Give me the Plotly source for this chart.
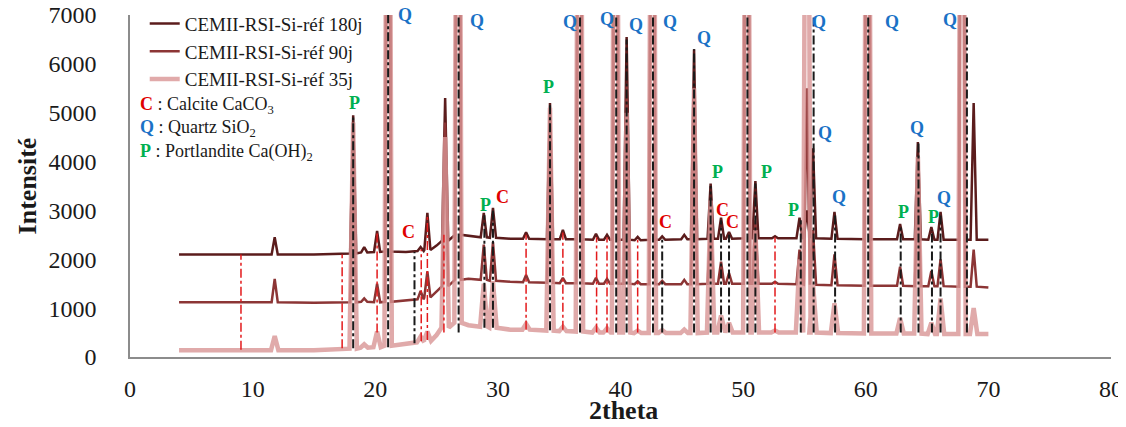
import plotly.graph_objects as go

# ---------------- data ----------------
# peak / anchor positions (2theta)
pos = [4.0, 9.0, 11.8, 15.0, 18.2, 19.1, 20.15, 21.05, 22.5, 23.7, 24.25, 25.0,
       25.7, 26.75, 27.6, 28.85, 29.6, 31.0, 32.3, 34.25, 35.3, 36.65, 38.0,
       38.9, 39.6, 40.5, 41.4, 42.6, 43.4, 45.2, 46.0, 47.35, 48.2, 48.85,
       50.3, 51.0, 52.6, 54.6, 55.2, 55.7, 57.45, 60.15, 62.8, 64.25, 65.35,
       66.1, 67.85, 68.8, 70.0]
# 1 = real peak, 0 = baseline anchor
is_peak = [0, 0, 1, 0, 1, 1, 1, 1, 0, 1, 1, 0,
           1, 1, 0, 1, 1, 0, 1, 1, 1, 1, 1,
           1, 1, 1, 1, 1, 1, 1, 1, 1, 1, 1,
           1, 1, 1, 1, 1, 1, 1, 1, 1, 1, 1,
           1, 1, 1, 0]

# (peaks that leave the chart are estimated well above the 7000 limit)
base_180 = [2100, 2090, 2100, 2100, 2120, 2140, 2150, 2160, 2150, 2170, 2190, 2280,
            2380, 2500, 2480, 2450, 2440, 2420, 2420, 2410, 2410, 2410, 2400,
            2400, 2400, 2400, 2390, 2400, 2400, 2410, 2410, 2420, 2420, 2420,
            2430, 2430, 2430, 2430, 2430, 2430, 2420, 2410, 2410, 2410, 2400,
            2400, 2400, 2400, 2400]
top_180 = [2100, 2090, 2450, 2100, 4950, 2250, 2580, 20000, 2150, 2250, 2950, 2280,
           5300, 20000, 2480, 2950, 3050, 2420, 2550, 5200, 2600, 20000, 2520,
           2500, 20000, 6550, 2460, 20000, 2470, 2500, 6300, 3550, 2850, 2560,
           20000, 3600, 2470, 2850, 3000, 4270, 2970, 20000, 2720, 4400, 2660,
           2970, 20000, 5200, 2400]

base_90 = [1120, 1110, 1120, 1110, 1120, 1130, 1120, 1130, 1150, 1180, 1220, 1350,
           1450, 1580, 1600, 1580, 1560, 1540, 1530, 1520, 1510, 1510, 1500,
           1500, 1500, 1500, 1490, 1490, 1490, 1490, 1490, 1500, 1500, 1500,
           1500, 1500, 1500, 1490, 1480, 1480, 1470, 1460, 1460, 1450, 1450,
           1450, 1440, 1440, 1420]
top_90 = [1120, 1110, 1600, 1110, 4000, 1200, 1500, 20000, 1150, 1350, 1750, 1350,
          4800, 20000, 1600, 2300, 2350, 1540, 1680, 4500, 1620, 20000, 1620,
          1600, 20000, 5600, 1550, 20000, 1560, 1580, 5300, 2800, 1950, 1720,
          20000, 2800, 1540, 2200, 5500, 2600, 2100, 20000, 1850, 3600, 1760,
          2000, 20000, 2200, 1420]

base_35 = [140, 130, 140, 140, 170, 190, 200, 230, 270, 300, 330, 450,
           600, 700, 650, 620, 600, 560, 560, 540, 530, 520, 500,
           500, 500, 500, 490, 490, 490, 490, 490, 500, 500, 500,
           500, 500, 500, 500, 500, 500, 490, 480, 480, 480, 470,
           470, 470, 470, 470]
top_35 = [140, 130, 430, 140, 4800, 260, 520, 20000, 270, 420, 520, 450,
          4500, 20000, 650, 1500, 1550, 560, 680, 5100, 620, 20000, 600,
          590, 20000, 5000, 540, 20000, 550, 560, 5500, 3200, 850, 700,
          20000, 2600, 540, 2000, 20000, 1500, 1100, 20000, 800, 4100, 700,
          1200, 20000, 1000, 470]

series_names = ["CEMII-RSI-Si-réf 180j", "CEMII-RSI-Si-réf 90j", "CEMII-RSI-Si-réf 35j"]

# reference (dash-dot) lines
red_x = [9.05, 17.3, 20.15, 23.75, 24.25, 25.6, 32.3, 35.3, 38.05, 38.9, 41.4, 52.6]
red_y0 = [150, 180, 500, 320, 350, 500, 560, 560, 500, 500, 500, 500]
red_y1 = [2100, 2100, 2550, 2200, 2900, 2500, 2500, 2550, 2450, 2450, 2400, 2450]

black_x = [18.2, 21.05, 23.2, 26.8, 28.9, 29.6, 34.25, 36.7, 39.65, 40.5, 42.65,
           43.4, 46.0, 47.35, 48.2, 48.85, 50.35, 51.0, 54.7, 55.75, 57.5, 60.2,
           62.85, 64.3, 65.4, 66.1, 68.25]
black_y0 = [180, 200, 280, 500, 600, 600, 550, 500, 500, 500, 500,
            500, 500, 500, 500, 500, 500, 500, 500, 500, 500, 500,
            500, 500, 500, 500, 500]
black_y1 = [4900, 7000, 2150, 7000, 2900, 3000, 5200, 7000, 7000, 6500, 7000,
            2400, 6300, 3500, 2800, 2500, 7000, 3550, 2800, 7000, 2900, 7000,
            2700, 4400, 2600, 2900, 7000]

# phase labels
lab_text = ["P", "Q", "C", "Q", "P", "C", "P", "Q", "Q", "Q", "Q", "Q", "Q",
            "C", "P", "C", "C", "P", "P", "Q", "Q", "Q", "Q", "P", "Q", "P", "Q", "Q"]
lab_x = [18.3, 22.4, 22.7, 28.3, 28.95, 30.4, 34.1, 35.85, 38.9, 41.3, 44.0, 46.8, 49.4,
         43.7, 47.9, 48.3, 49.1, 51.9, 54.1, 56.2, 56.7, 57.8, 62.1, 63.1, 64.2, 65.5, 66.4, 66.9]
lab_y = [5200, 7000, 2560, 6880, 3110, 3270, 5530, 6860, 6920, 6800, 6860, 6530, 7020,
         2760, 3790, 3010, 2760, 3790, 3010, 6860, 4590, 3270, 6860, 2970, 4690, 2870, 3250, 6900]

# ---------------- styles ----------------
FONT = "Liberation Serif"
col_series = ["#5b1c1c", "#8c3535", "#d99595"]
width_series = [2.5, 2.5, 4.5]
opac_series = [1.0, 1.0, 0.8]
hw_series = [0.25, 0.25, 0.3]  # half width of a peak foot (2theta units)
lab_color = {"P": "#00b050", "Q": "#1a72c6", "C": "#e00000"}


def polyline(bases, tops, hw):
    xs, ys = [], []
    for p, pk, b, t in zip(pos, is_peak, bases, tops):
        if pk:
            xs += [p - hw, p, p + hw]
            ys += [b, t, b]
        else:
            xs.append(p)
            ys.append(b)
    return xs, ys


fig = go.Figure()
for name, b, t, c, w, o, hw in zip(series_names, [base_180, base_90, base_35],
                                   [top_180, top_90, top_35], col_series,
                                   width_series, opac_series, hw_series):
    xs, ys = polyline(b, t, hw)
    fig.add_trace(go.Scatter(x=xs, y=ys, mode="lines", name=name,
                             line=dict(color=c, width=w), opacity=o))


def vlines(xs, y0s, y1s):
    X, Y = [], []
    for x, a, b in zip(xs, y0s, y1s):
        X += [x, x, None]
        Y += [a, b, None]
    return X, Y


rx, ry = vlines(red_x, red_y0, red_y1)
fig.add_trace(go.Scatter(x=rx, y=ry, mode="lines", showlegend=False,
                         line=dict(color="#e31a1c", width=1.5, dash="dashdot")))
bx, by = vlines(black_x, black_y0, black_y1)
fig.add_trace(go.Scatter(x=bx, y=by, mode="lines", showlegend=False,
                         line=dict(color="#1a1a1a", width=2, dash="dashdot")))

for t, x, y in zip(lab_text, lab_x, lab_y):
    fig.add_annotation(x=x, y=y, text="<b>%s</b>" % t, showarrow=False,
                       font=dict(family=FONT, size=18, color=lab_color[t]))

fig.add_annotation(
    xref="paper", yref="paper", x=0.008, y=0.775, xanchor="left", yanchor="top",
    align="left", showarrow=False,
    font=dict(family=FONT, size=18, color="#1a1a1a"),
    text=("<b><span style='color:#e00000'>C</span></b> : Calcite CaCO<sub>3</sub><br>"
          "<b><span style='color:#1a72c6'>Q</span></b> : Quartz SiO<sub>2</sub><br>"
          "<b><span style='color:#00b050'>P</span></b> : Portlandite Ca(OH)<sub>2</sub>"))

# x-axis title placed as a paper annotation for exact placement
fig.add_annotation(
    xref="paper", yref="paper", x=0.503, y=-0.155, xanchor="center", yanchor="middle",
    showarrow=False, text="<b>2theta</b>",
    font=dict(family=FONT, size=26, color="#1a1a1a"))

# the page body adds an 8 px offset; the figure is sized to fit the window
fig.update_layout(
    width=1118, height=419,
    margin=dict(l=122, r=15, t=7, b=70, autoexpand=False),
    paper_bgcolor="white", plot_bgcolor="white",
    font=dict(family=FONT, color="#1a1a1a"),
    showlegend=True,
    legend=dict(x=0.015, y=1.03, xanchor="left", yanchor="top",
                bgcolor="rgba(0,0,0,0)", font=dict(family=FONT, size=19),
                tracegroupgap=0),
    xaxis=dict(range=[0, 80], dtick=10, showgrid=False, zeroline=False,
               showline=True, linecolor="#8c8c8c", linewidth=1.5,
               ticks="", tickfont=dict(family=FONT, size=24),
               ticklabelstandoff=9, automargin=False, ticklabeloverflow="allow"),
    yaxis=dict(range=[0, 7000], dtick=1000, showgrid=False, zeroline=False,
               showline=True, linecolor="#8c8c8c", linewidth=1.5,
               ticks="", tickfont=dict(family=FONT, size=24),
               ticklabelstandoff=27, automargin=False, ticklabeloverflow="allow",
               title=dict(text="<b>Intensité</b>", standoff=4,
                          font=dict(family=FONT, size=26))),
)

fig.write_html("out.html")
